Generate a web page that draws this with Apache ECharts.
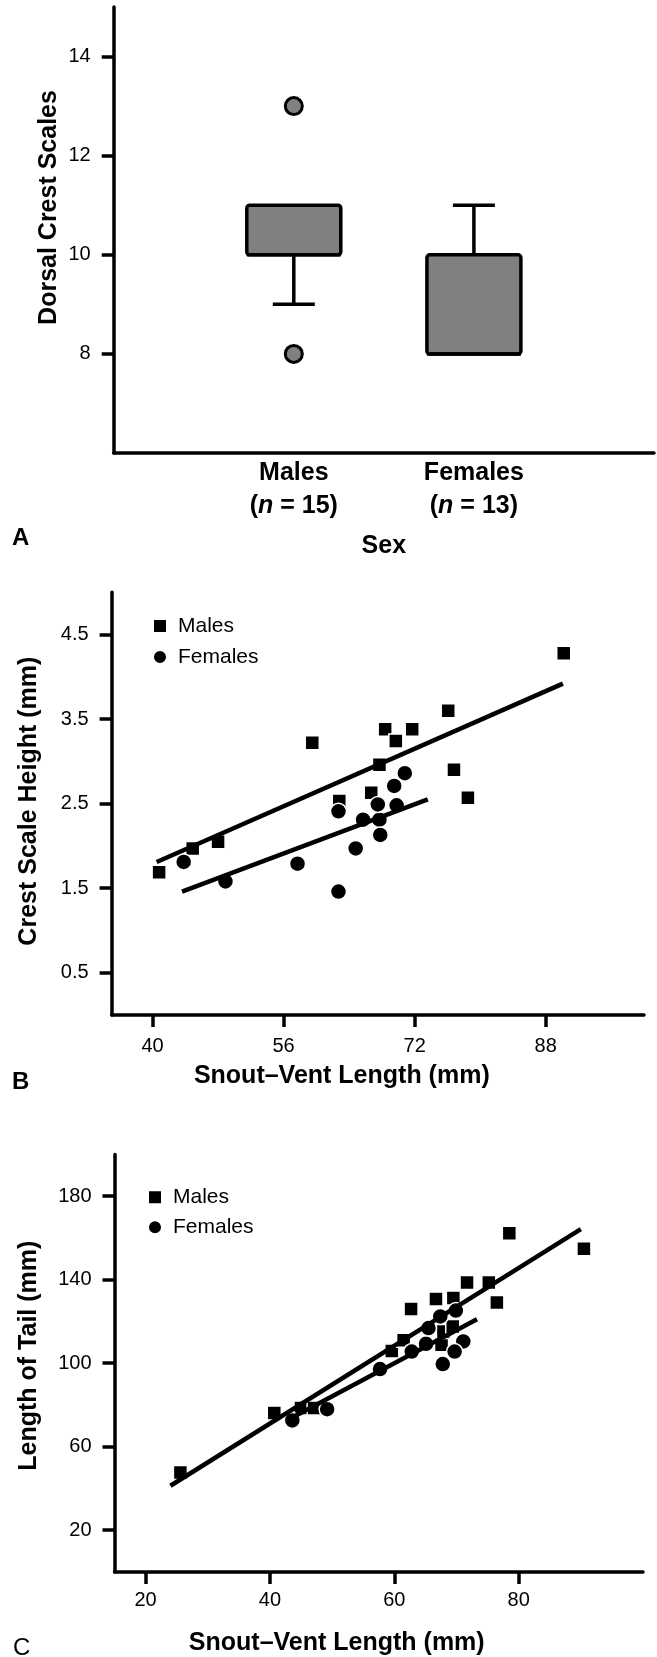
<!DOCTYPE html>
<html><head><meta charset="utf-8">
<script src="https://cdn.jsdelivr.net/npm/echarts@6/dist/echarts.min.js"></script>
<style>html,body{margin:0;padding:0;background:#fff}#c{width:657px;height:1657px}</style>
</head><body><div id="c"></div>
<script>
// ---------- Panel A: Dorsal crest scales by sex ----------
const sexCategories = ['Males', 'Females'];
const sexSampleSizes = [15, 13];
// [lower whisker, Q1, median, Q3, upper whisker]
const crestScaleStats = [
  [9, 10, 10, 11, 11],
  [8, 8, 8, 10, 11]
];
// [category index, value]
const crestScaleOutliers = [[0, 13], [0, 8]];
const panelAYTicks = [8, 10, 12, 14];

// ---------- Panel B: Crest scale height vs SVL ----------
const bMales = [[40.8,1.69],[44.9,1.97],[48.0,2.05],[59.5,3.22],[62.8,2.53],[66.7,2.63],[67.7,2.96],[68.4,3.38],[69.7,3.24],[71.7,3.38],[76.1,3.60],[76.8,2.90],[78.5,2.57],[90.2,4.28]];
const bFemales = [[43.8,1.81],[48.9,1.58],[57.7,1.79],[62.7,1.46],[62.7,2.41],[64.8,1.97],[65.7,2.31],[67.7,2.31],[67.8,2.13],[67.5,2.49],[69.5,2.71],[69.8,2.48],[70.8,2.86]];
const bMalesFit = [[40.5,1.81],[90.1,3.92]];
const bFemalesFit = [[43.6,1.46],[73.6,2.55]];
const bXTicks = [40, 56, 72, 88];
const bYTicks = [0.5, 1.5, 2.5, 3.5, 4.5];

// ---------- Panel C: Tail length vs SVL ----------
const cMales = [[25.6,47.6],[40.7,76.1],[45.0,78.5],[47.1,78.5],[59.6,105.9],[61.5,111.0],[62.7,125.9],[66.7,130.7],[67.6,108.8],[67.9,115.2],[69.4,117.6],[69.5,131.2],[71.7,138.7],[75.2,138.7],[76.5,129.1],[78.5,162.2],[90.5,154.8]];
const cFemales = [[43.6,72.6],[49.2,78.0],[57.7,97.2],[62.8,105.6],[65.1,109.3],[65.5,116.8],[67.4,122.4],[69.9,125.2],[71.1,110.4],[69.7,105.6],[67.8,99.6]];
const cMalesFit = [[24.0,41.3],[90.0,164.2]];
const cFemalesFit = [[43.6,74.0],[73.3,121.1]];
const cXTicks = [20, 40, 60, 80];
const cYTicks = [20, 60, 100, 140, 180];

const FONT = "'Liberation Sans', Arial, Helvetica, sans-serif";
const AXW = 3.5;
const axisLine = {show: true, lineStyle: {color: '#000', width: AXW}};
const tickStyle = {show: true, length: 12, lineStyle: {color: '#000', width: AXW}};
const tickLabel = (margin, fmt) => ({color: '#000', fontSize: 20, fontFamily: FONT, margin: margin, formatter: fmt});
const nameStyle = (pad) => ({color: '#000', fontSize: 25, fontWeight: 'bold', fontFamily: FONT, padding: pad});

const chart = echarts.init(document.getElementById('c'), null, {renderer: 'canvas'});

const boxData = crestScaleStats.map((s, i) => [i + 1].concat(s));
const outlierData = crestScaleOutliers.map(o => [o[0] + 1, o[1]]);

function renderBox(params, api) {
  const x = api.value(0);
  const lo = api.value(1), q1 = api.value(2), med = api.value(3), q3 = api.value(4), hi = api.value(5);
  const pLo = api.coord([x, lo]), pQ1 = api.coord([x, q1]), pMed = api.coord([x, med]);
  const pQ3 = api.coord([x, q3]), pHi = api.coord([x, hi]);
  const bw = 94, cw = 42;
  const ls = {stroke: '#000', lineWidth: AXW};
  const children = [];
  if (lo < q1) {
    children.push({type: 'line', shape: {x1: pLo[0], y1: pLo[1], x2: pQ1[0], y2: pQ1[1]}, style: ls});
    children.push({type: 'line', shape: {x1: pLo[0] - cw / 2, y1: pLo[1], x2: pLo[0] + cw / 2, y2: pLo[1]}, style: ls});
  }
  if (hi > q3) {
    children.push({type: 'line', shape: {x1: pHi[0], y1: pHi[1], x2: pQ3[0], y2: pQ3[1]}, style: ls});
    children.push({type: 'line', shape: {x1: pHi[0] - cw / 2, y1: pHi[1], x2: pHi[0] + cw / 2, y2: pHi[1]}, style: ls});
  }
  children.push({type: 'rect', shape: {x: pQ1[0] - bw / 2, y: pQ3[1], width: bw, height: pQ1[1] - pQ3[1], r: 3},
    style: {fill: '#808080', stroke: '#000', lineWidth: AXW}});
  children.push({type: 'line', shape: {x1: pMed[0] - bw / 2, y1: pMed[1], x2: pMed[0] + bw / 2, y2: pMed[1]}, style: ls});
  return {type: 'group', children: children};
}

const scatterStyle = {color: '#000', borderColor: '#fff', borderWidth: 1.5, opacity: 1};
const fitStyle = {color: '#000', width: 4.5, opacity: 1};

const option = {
  animation: false,
  backgroundColor: '#fff',
  textStyle: {fontFamily: FONT},
  grid: [
    {left: 113.7, top: 7, width: 541.3, height: 446},
    {left: 111.6, top: 592.3, width: 532.4, height: 422.7},
    {left: 114.5, top: 1154.4, width: 528.5, height: 419}
  ],
  legend: [
    {orient: 'vertical', left: 147, top: 610.5, itemWidth: 14, itemHeight: 14, itemGap: 10,
     textStyle: {color: '#000', fontSize: 21, fontFamily: FONT, padding: [0, 0, 0, 6]},
     data: [{name: 'Males', icon: 'rect'}, {name: 'Females', icon: 'circle'}], selectedMode: false},
    {orient: 'vertical', left: 142, top: 1181.7, itemWidth: 14, itemHeight: 14, itemGap: 9,
     textStyle: {color: '#000', fontSize: 21, fontFamily: FONT, padding: [0, 0, 0, 6]},
     data: [{name: 'Males', icon: 'rect'}, {name: 'Females', icon: 'circle'}], selectedMode: false}
  ],
  xAxis: [
    {gridIndex: 0, type: 'value', min: 0, max: 3, interval: 1, splitLine: {show: false},
     axisLine: axisLine, axisTick: {show: false},
     axisLabel: {margin: 4,
       formatter: v => {
         const i = Math.round(v) - 1;
         if (i < 0 || i >= sexCategories.length) return '';
         return '{b|' + sexCategories[i] + '}\n{b|(}{i|n}{b| = ' + sexSampleSizes[i] + ')}';
       },
       rich: {
         b: {fontSize: 25, fontWeight: 'bold', fontFamily: FONT, color: '#000', lineHeight: 33},
         i: {fontSize: 25, fontWeight: 'bold', fontStyle: 'italic', fontFamily: FONT, color: '#000', lineHeight: 33}
       }},
     name: 'Sex', nameLocation: 'middle', nameGap: 81, nameMoveOverlap: false, nameTextStyle: nameStyle([0, 0, 0, 0])},
    {gridIndex: 1, type: 'value', min: 35, max: 100, splitLine: {show: false},
     axisLine: axisLine, axisTick: Object.assign({customValues: bXTicks}, tickStyle),
     axisLabel: Object.assign({customValues: bXTicks}, tickLabel(21, v => String(v))),
     name: 'Snout\u2013Vent Length (mm)', nameLocation: 'middle', nameGap: 49, nameMoveOverlap: false, nameTextStyle: nameStyle([0, 72, 0, 0])},
    {gridIndex: 2, type: 'value', min: 15, max: 100, splitLine: {show: false},
     axisLine: axisLine, axisTick: Object.assign({customValues: cXTicks}, tickStyle),
     axisLabel: Object.assign({customValues: cXTicks}, tickLabel(18, v => String(v))),
     name: 'Snout\u2013Vent Length (mm)', nameLocation: 'middle', nameGap: 59, nameMoveOverlap: false, nameTextStyle: nameStyle([0, 84, 0, 0])}
  ],
  yAxis: [
    {gridIndex: 0, type: 'value', min: 6, max: 15, splitLine: {show: false},
     axisLine: axisLine, axisTick: Object.assign({customValues: panelAYTicks}, tickStyle),
     axisLabel: Object.assign({customValues: panelAYTicks}, tickLabel(23, v => String(v))),
     name: 'Dorsal Crest Scales', nameLocation: 'middle', nameGap: 52, nameMoveOverlap: false, nameTextStyle: nameStyle([0, 0, 0, 45])},
    {gridIndex: 1, type: 'value', min: 0, max: 5, splitLine: {show: false},
     axisLine: axisLine, axisTick: Object.assign({customValues: bYTicks}, tickStyle),
     axisLabel: Object.assign({customValues: bYTicks}, tickLabel(23, v => v.toFixed(1))),
     name: 'Crest Scale Height (mm)', nameLocation: 'middle', nameGap: 70, nameMoveOverlap: false, nameTextStyle: nameStyle([0, 0, 0, 5])},
    {gridIndex: 2, type: 'value', min: 0, max: 200, splitLine: {show: false},
     axisLine: axisLine, axisTick: Object.assign({customValues: cYTicks}, tickStyle),
     axisLabel: Object.assign({customValues: cYTicks}, tickLabel(23, v => String(v))),
     name: 'Length of Tail (mm)', nameLocation: 'middle', nameGap: 73, nameMoveOverlap: false, nameTextStyle: nameStyle([0, 0, 0, 15])}
  ],
  series: [
    {type: 'custom', xAxisIndex: 0, yAxisIndex: 0, data: boxData, renderItem: renderBox, silent: true},
    {type: 'scatter', xAxisIndex: 0, yAxisIndex: 0, data: outlierData, symbol: 'circle', symbolSize: 17,
     itemStyle: {color: '#808080', borderColor: '#000', borderWidth: 3, opacity: 1}, silent: true},

    {type: 'line', name: 'MalesFitB', xAxisIndex: 1, yAxisIndex: 1, data: bMalesFit, showSymbol: false, lineStyle: fitStyle, silent: true},
    {type: 'line', name: 'FemalesFitB', xAxisIndex: 1, yAxisIndex: 1, data: bFemalesFit, showSymbol: false, lineStyle: fitStyle, silent: true},
    {type: 'scatter', name: 'Males', xAxisIndex: 1, yAxisIndex: 1, data: bMales, symbol: 'rect', symbolSize: 14, itemStyle: scatterStyle},
    {type: 'scatter', name: 'Females', xAxisIndex: 1, yAxisIndex: 1, data: bFemales, symbol: 'circle', symbolSize: 16, itemStyle: scatterStyle},

    {type: 'line', name: 'MalesFitC', xAxisIndex: 2, yAxisIndex: 2, data: cMalesFit, showSymbol: false, lineStyle: fitStyle, silent: true},
    {type: 'line', name: 'FemalesFitC', xAxisIndex: 2, yAxisIndex: 2, data: cFemalesFit, showSymbol: false, lineStyle: fitStyle, silent: true},
    {type: 'scatter', name: 'Males', xAxisIndex: 2, yAxisIndex: 2, data: cMales, symbol: 'rect', symbolSize: 14, itemStyle: scatterStyle},
    {type: 'scatter', name: 'Females', xAxisIndex: 2, yAxisIndex: 2, data: cFemales, symbol: 'circle', symbolSize: 16, itemStyle: scatterStyle}
  ],
  graphic: [
    {type: 'text', left: 12, top: 526, style: {text: 'A', fontSize: 24, fontWeight: 'bold', fontFamily: FONT, fill: '#000'}},
    {type: 'text', left: 12, top: 1070, style: {text: 'B', fontSize: 24, fontWeight: 'bold', fontFamily: FONT, fill: '#000'}},
    {type: 'text', left: 13, top: 1636, style: {text: 'C', fontSize: 24, fontFamily: FONT, fill: '#000'}}
  ]
};
chart.setOption(option);
</script>
</body></html>
